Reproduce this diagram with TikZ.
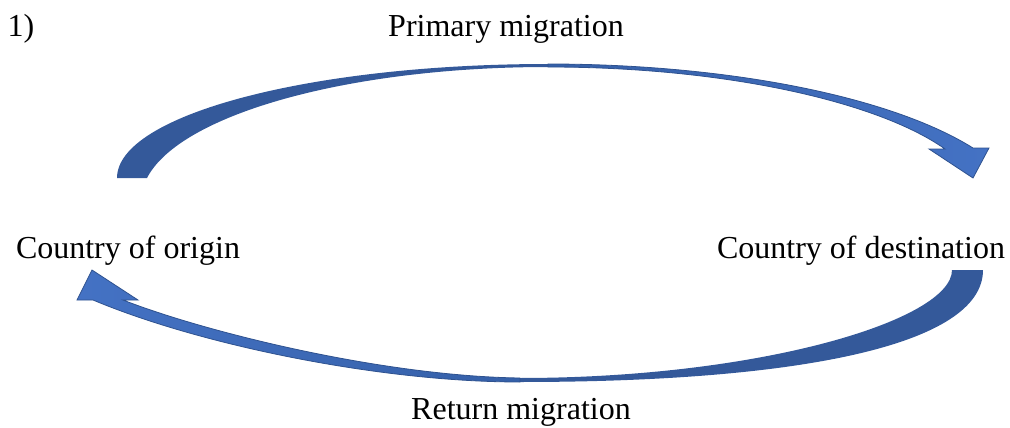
\documentclass[tikz,border=0pt]{standalone}
\usepackage{fontspec}
\setmainfont{Liberation Serif}
\usepackage{tikz}
\definecolor{bandback}{HTML}{34599A}
\definecolor{bandmid}{HTML}{3560A8}
\definecolor{bandfront}{HTML}{4472C4}
\definecolor{bandline}{HTML}{2F528F}
\tikzset{
  mtext/.style={inner sep=0pt, anchor=base, font=\fontsize{32}{38}\selectfont},
  backband/.style={fill=bandback},
  frontband/.style={draw=bandline, line width=0.8pt, line join=miter},
}

\begin{document}
\begin{tikzpicture}[x=1pt,y=-1pt]
      \useasboundingbox (0,0) rectangle (1010,428);

      \node [mtext] (num) at (21,37) {1)};
      \node [mtext] (primary) at (506,37) {Primary migration};
      \node [mtext] (origin) at (128,258) {Country of origin};
      \node [mtext] (dest) at (861,258) {Country of destination};
      \node [mtext] (return) at (521,419) {Return migration};

      % primary migration, back part then front part
      \fill [backband] (117,178) .. controls (117,115) and (310,64) .. (548,64)
      -- (548,67) .. controls (350,67) and (180,114) .. (147,178) -- cycle;
      \draw [frontband, left color=bandmid, right color=bandfront]
      (548,64) .. controls (726,64) and (890,96) .. (973,148)
      -- (989,148) -- (973,178) -- (929,149) -- (945,149)
      .. controls (877,101) and (723,67) .. (548,67) -- cycle;

      % return migration
      \fill [backband] (983,270) .. controls (983,345) and (800,382) .. (520,382)
      -- (520,378) .. controls (760,378) and (952,320) .. (952,270) -- cycle;
      \draw [frontband, left color=bandfront, right color=bandmid]
      (520,382) .. controls (380,382) and (200,345) .. (93,300)
      -- (77,300) -- (92,270) -- (138,300) -- (123,300)
      .. controls (202,331) and (380,376) .. (520,378) -- cycle;
    \end{tikzpicture}
\end{document}
